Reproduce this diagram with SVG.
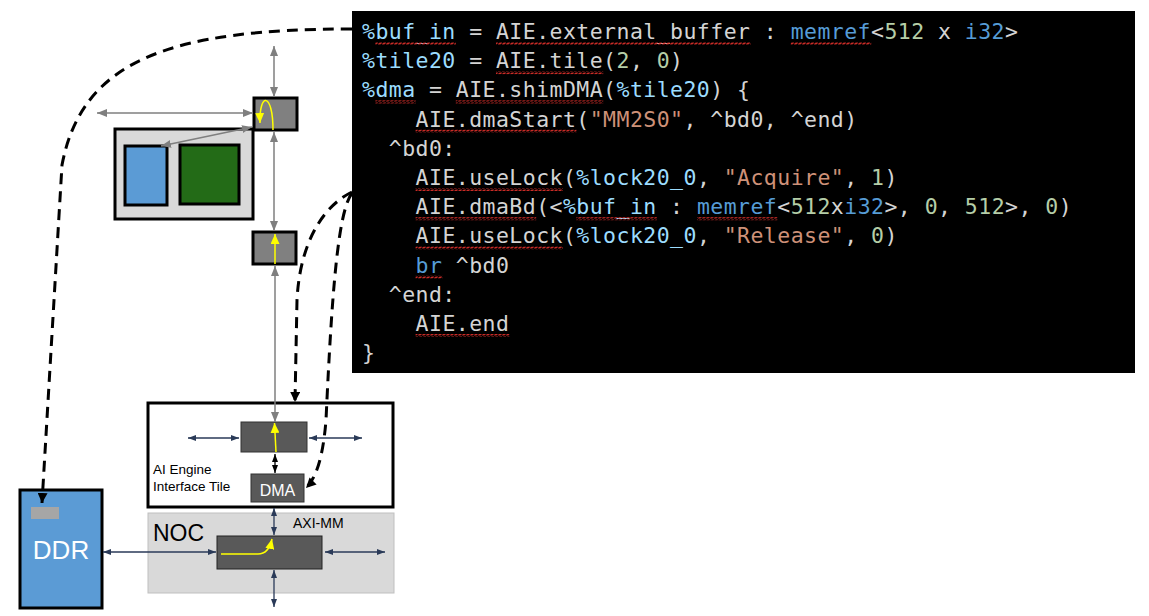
<svg xmlns="http://www.w3.org/2000/svg" width="1149" height="616" viewBox="0 0 1149 616">
<style>
.code{font-family:"DejaVu Sans Mono","Liberation Mono",monospace;font-size:21.5px;letter-spacing:0.45px;fill:#d4d4d4}
.v{fill:#9cdcfe}.s{fill:#ce9178}.n{fill:#b5cea8}.t{fill:#569cd6}
.lbl{font-family:"Liberation Sans",Arial,sans-serif}
.g{stroke:#7f7f7f;stroke-width:1.5;fill:none}
.nv{stroke:#2a3a58;stroke-width:1.3;fill:none}
.dash{stroke:#000;stroke-width:3;fill:none;stroke-dasharray:11 7}
.sq{fill:url(#sqp)}
</style>
<defs>
<pattern id="sqp" width="4" height="3" patternUnits="userSpaceOnUse"><path d="M0,2.5 L1,0.5 L3,2.5 L4,0.5" stroke="#e0302a" stroke-width="0.9" fill="none"/></pattern>
<marker id="ag" markerUnits="userSpaceOnUse" viewBox="0 0 10 8" refX="10" refY="4" markerWidth="10" markerHeight="8" orient="auto-start-reverse"><path d="M0,0 L10,4 L0,8 z" fill="#7f7f7f"/></marker>
<marker id="an" markerUnits="userSpaceOnUse" viewBox="0 0 8 6" refX="8" refY="3" markerWidth="8" markerHeight="6" orient="auto-start-reverse"><path d="M0,0 L8,3 L0,6 z" fill="#2a3a58"/></marker>
<marker id="ak" markerUnits="userSpaceOnUse" viewBox="0 0 8 6" refX="8" refY="3" markerWidth="8" markerHeight="6" orient="auto-start-reverse"><path d="M0,0 L8,3 L0,6 z" fill="#000"/></marker>
<marker id="ad" markerUnits="userSpaceOnUse" viewBox="0 0 10 10" refX="10" refY="5" markerWidth="10" markerHeight="10" orient="auto"><path d="M0,0 L10,5 L0,10 z" fill="#000"/></marker>
<marker id="ay" markerUnits="userSpaceOnUse" viewBox="0 0 10 9" refX="10" refY="4.5" markerWidth="10" markerHeight="9" orient="auto"><path d="M0,0 L10,4.5 L0,9 z" fill="#ffff00"/></marker>
</defs>
<rect width="1149" height="616" fill="#fff"/>

<g id="code">
<rect x="352" y="11" width="783" height="362" fill="#000"/>
<text class="code" x="362" y="39" xml:space="preserve"><tspan class="v">%buf_in</tspan> = AIE.external_buffer : <tspan class="t">memref</tspan>&lt;<tspan class="n">512</tspan> x <tspan class="t">i32</tspan>&gt;</text>
<text class="code" x="362" y="68.2" xml:space="preserve"><tspan class="v">%tile20</tspan> = AIE.tile(<tspan class="n">2</tspan>, <tspan class="n">0</tspan>)</text>
<text class="code" x="362" y="97.4" xml:space="preserve"><tspan class="v">%dma</tspan> = AIE.shimDMA(<tspan class="v">%tile20</tspan>) {</text>
<text class="code" x="415.6" y="126.6" xml:space="preserve">AIE.dmaStart(<tspan class="s">"MM2S0"</tspan>, ^bd0, ^end)</text>
<text class="code" x="388.8" y="155.8" xml:space="preserve">^bd0:</text>
<text class="code" x="415.6" y="185" xml:space="preserve">AIE.useLock(<tspan class="v">%lock20_0</tspan>, <tspan class="s">"Acquire"</tspan>, <tspan class="n">1</tspan>)</text>
<text class="code" x="415.6" y="214.2" xml:space="preserve">AIE.dmaBd(&lt;<tspan class="v">%buf_in</tspan> : <tspan class="t">memref</tspan>&lt;<tspan class="n">512</tspan>x<tspan class="t">i32</tspan>&gt;, <tspan class="n">0</tspan>, <tspan class="n">512</tspan>&gt;, <tspan class="n">0</tspan>)</text>
<text class="code" x="415.6" y="243.4" xml:space="preserve">AIE.useLock(<tspan class="v">%lock20_0</tspan>, <tspan class="s">"Release"</tspan>, <tspan class="n">0</tspan>)</text>
<text class="code" x="415.6" y="272.6" xml:space="preserve"><tspan class="t">br</tspan> ^bd0</text>
<text class="code" x="388.8" y="301.8" xml:space="preserve">^end:</text>
<text class="code" x="415.6" y="331" xml:space="preserve">AIE.end</text>
<text class="code" x="362" y="360.2" xml:space="preserve">}</text>
<rect class="sq" x="375.4" y="42" width="80.4" height="3"/>
<rect class="sq" x="496" y="42" width="254.6" height="3"/>
<rect class="sq" x="790.8" y="42" width="80.4" height="3"/>
<rect class="sq" x="496" y="71.2" width="107.2" height="3"/>
<rect class="sq" x="375.4" y="100.4" width="40.2" height="3"/>
<rect class="sq" x="455.8" y="100.4" width="147.4" height="3"/>
<rect class="sq" x="415.6" y="129.6" width="160.8" height="3"/>
<rect class="sq" x="415.6" y="188" width="147.4" height="3"/>
<rect class="sq" x="415.6" y="217.2" width="120.6" height="3"/>
<rect class="sq" x="576.4" y="217.2" width="80.4" height="3"/>
<rect class="sq" x="697" y="217.2" width="80.4" height="3"/>
<rect class="sq" x="415.6" y="246.4" width="147.4" height="3"/>
<rect class="sq" x="415.6" y="275.6" width="26.8" height="3"/>
<rect class="sq" x="415.6" y="334" width="93.8" height="3"/>
</g>

<g id="compute-tile">
<rect x="115" y="129" width="138" height="90" fill="#d9d9d9" stroke="#000" stroke-width="3"/>
<rect x="125" y="146" width="42" height="59" fill="#5b9bd5" stroke="#000" stroke-width="3"/>
<rect x="180" y="145" width="59" height="59" fill="#236b17" stroke="#000" stroke-width="3"/>
</g>
<g id="switch-top">
<rect x="254" y="98" width="43" height="32" fill="#808080" stroke="#000" stroke-width="3"/>
<path d="M273,130 C273,92 259,92 260,123" stroke="#ffff00" stroke-width="1.5" fill="none" marker-end="url(#ay)"/>
</g>
<g id="switch-mid">
<rect x="253" y="232" width="43" height="32" fill="#808080" stroke="#000" stroke-width="3"/>
<line x1="275" y1="264" x2="275" y2="234" stroke="#ffff00" stroke-width="1.5" marker-end="url(#ay)"/>
</g>

<g id="interface-tile">
<rect x="148" y="403" width="245" height="104" fill="#fff" stroke="#000" stroke-width="3"/>
<rect x="241" y="422" width="66" height="30" fill="#595959" stroke="#333" stroke-width="1"/>
<line x1="276" y1="452" x2="274.5" y2="423" stroke="#ffff00" stroke-width="1.5" marker-end="url(#ay)"/>
<text class="lbl" x="153" y="474" font-size="13.5" fill="#000">AI Engine</text>
<text class="lbl" x="153" y="491" font-size="13.5" fill="#000">Interface Tile</text>
</g>
<g id="dma">
<rect x="251" y="474" width="53" height="28" fill="#595959" stroke="#333" stroke-width="1"/>
<text class="lbl" x="277.5" y="496" font-size="16" fill="#fff" text-anchor="middle">DMA</text>
</g>

<g id="noc">
<rect x="148" y="513" width="246" height="80" fill="#d9d9d9" stroke="#bfbfbf" stroke-width="1"/>
<text class="lbl" x="153" y="541" font-size="23" fill="#000">NOC</text>
<text class="lbl" x="293" y="528" font-size="14" fill="#000">AXI-MM</text>
<rect x="217" y="536" width="105" height="33" fill="#595959" stroke="#222" stroke-width="1"/>
<path d="M221,554 L258,554 C266,554 270,548 272,539" stroke="#ffff00" stroke-width="1.5" fill="none" marker-end="url(#ay)"/>
</g>

<g id="ddr">
<rect x="20" y="490" width="82" height="118" fill="#5b9bd5" stroke="#000" stroke-width="3"/>
<rect x="31" y="507" width="28" height="12" fill="#a6a6a6"/>
<text class="lbl" x="61" y="559" font-size="26" fill="#fff" text-anchor="middle">DDR</text>
</g>

<g id="connectors">
<line class="g" x1="274" y1="46" x2="274" y2="97" marker-start="url(#ag)" marker-end="url(#ag)"/>
<line class="g" x1="97" y1="113" x2="253" y2="113" marker-start="url(#ag)" marker-end="url(#ag)"/>
<line class="g" x1="252" y1="127" x2="161" y2="146" marker-start="url(#ag)" marker-end="url(#ag)"/>
<line class="g" x1="274" y1="132" x2="274" y2="231" marker-start="url(#ag)" marker-end="url(#ag)"/>
<line class="g" x1="275" y1="266" x2="275" y2="422" marker-start="url(#ag)" marker-end="url(#ag)"/>
<line class="nv" x1="188" y1="438" x2="239" y2="438" marker-start="url(#an)" marker-end="url(#an)"/>
<line class="nv" x1="309" y1="438" x2="362" y2="438" marker-start="url(#an)" marker-end="url(#an)"/>
<line stroke="#000" stroke-width="1.3" x1="275" y1="454" x2="275" y2="473" marker-start="url(#ak)" marker-end="url(#ak)"/>
<line class="nv" x1="274" y1="508" x2="274" y2="535" marker-start="url(#an)" marker-end="url(#an)"/>
<line class="nv" x1="274" y1="570" x2="274" y2="607" marker-start="url(#an)" marker-end="url(#an)"/>
<line class="nv" x1="325" y1="552" x2="385" y2="552" marker-start="url(#an)" marker-end="url(#an)"/>
<line class="nv" x1="103" y1="552" x2="216" y2="552" marker-start="url(#an)" marker-end="url(#an)"/>
<path class="dash" d="M352,29 C170,29 82,60 62,165 L42,503" marker-end="url(#ad)"/>
<path class="dash" d="M352,192 C325,205 300,240 297,300 L295,402" marker-end="url(#ad)"/>
<path class="dash" d="M352,193 C338,212 332,290 326,420 C323,458 316,478 306,488" marker-end="url(#ad)"/>
</g>
</svg>
